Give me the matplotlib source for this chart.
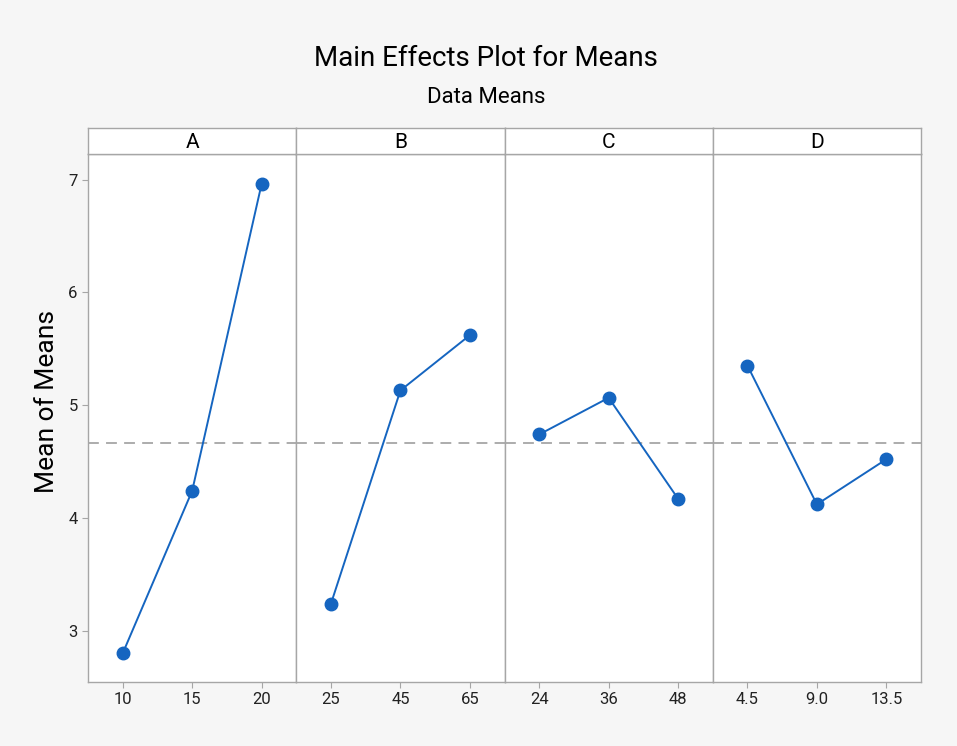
import matplotlib
matplotlib.use("Agg")
from matplotlib import pyplot as plt
import numpy as np

# factor names, levels and the means
factors = ["A", "B", "C", "D"]
levels_A = ["10", "15", "20"]
levels_B = ["25", "45", "65"]
levels_C = ["24", "36", "48"]
levels_D = ["4.5", "9.0", "13.5"]
means_A = [2.80, 4.24, 6.96]
means_B = [3.24, 5.13, 5.62]
means_C = [4.74, 5.065, 4.17]
means_D = [5.35, 4.12, 4.52]
grand_mean = 4.665

levels = [levels_A, levels_B, levels_C, levels_D]
means = [means_A, means_B, means_C, means_D]

plt.rcParams['font.family'] = ['Roboto', 'DejaVu Sans']

blue = '#1565c0'
grey = '#a6a6a6'

fig = plt.figure(figsize=(9.57, 7.46), dpi=100, facecolor='#f6f6f6')

left, right = 0.092, 0.9624
bottom, top = 0.0858, 0.7936
strip_h = 26 / 746
w = (right - left) / 4

for i, f in enumerate(factors):
    ax = fig.add_axes([left + i * w, bottom, w, top - bottom])
    ax.set_facecolor('white')
    x = np.arange(len(levels[i]))
    ax.axhline(grand_mean, color=grey, lw=1.3, ls=(0, (6, 4)), zorder=1)
    ax.plot(x, means[i], color=blue, lw=1.4, marker='o', ms=9, zorder=3)
    ax.set_xlim(-0.5, 2.5)
    ax.set_ylim(2.545, 7.227)
    ax.set_xticks(x)
    ax.set_xticklabels(levels[i], fontsize=12, color='#222222')
    ax.set_yticks([3, 4, 5, 6, 7])
    ax.tick_params(axis='both', color=grey, length=4, width=0.8)
    if i == 0:
        ax.tick_params(axis='y', labelsize=12, labelcolor='#222222')
        ax.set_ylabel("Mean of Means", fontsize=19)
        ax.yaxis.set_label_coords(-0.14, 0.532)
    else:
        ax.tick_params(axis='y', left=False, labelleft=False)
    for s in ax.spines.values():
        s.set_color(grey)
        s.set_linewidth(1.0)

    # header strip
    sax = fig.add_axes([left + i * w, top, w, strip_h])
    sax.set_facecolor('white')
    sax.set_xticks([])
    sax.set_yticks([])
    for s in sax.spines.values():
        s.set_color(grey)
        s.set_linewidth(1.0)
    sax.text(0.5, 0.45, f, ha='center', va='center', fontsize=15,
             transform=sax.transAxes)

fig.text(0.508, 0.922, "Main Effects Plot for Means", ha='center', va='center',
         fontsize=20)
fig.text(0.508, 0.869, "Data Means", ha='center', va='center', fontsize=16)

plt.savefig('out.png', dpi=100, facecolor=fig.get_facecolor())
